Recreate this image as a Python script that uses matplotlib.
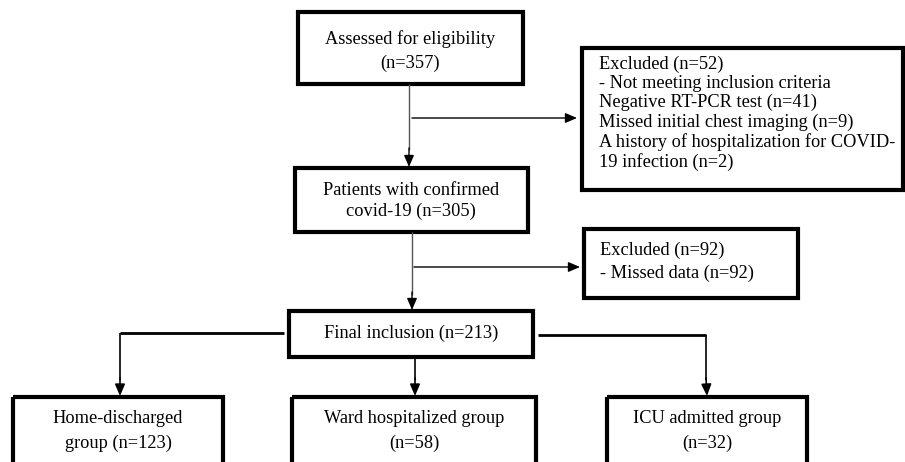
import matplotlib
matplotlib.use("Agg")
import matplotlib.pyplot as plt
from matplotlib.patches import Rectangle

# flow counts
assessed = 357
confirmed = 305
excluded_first = 52
negative_pcr = 41
missed_imaging = 9
prior_hosp = 2
excluded_second = 92
missed_data = 92
final_n = 213
group_names = ["Home-discharged\ngroup", "Ward hospitalized group\n", "ICU admitted group\n"]
group_counts = [123, 58, 32]

plt.rcParams['font.family'] = ['Liberation Serif', 'DejaVu Serif']

fig = plt.figure(figsize=(9.05, 4.62), dpi=100)
ax = fig.add_axes([0, 0, 1, 1])
ax.set_xlim(0, 905)
ax.set_ylim(462, 0)
ax.axis('off')

FS = 13.2


def box(x0, y0, x1, y1, lw=3):
    ax.add_patch(Rectangle((x0, y0), x1 - x0, y1 - y0, fill=False,
                           edgecolor='black', linewidth=lw, joinstyle='miter'))


def arrow(x0, y0, x1, y1, color='black', lw=1.0):
    ax.annotate('', xy=(x1, y1), xytext=(x0, y0),
                arrowprops=dict(arrowstyle='-|>,head_length=0.7,head_width=0.3',
                                color='black', lw=lw, shrinkA=0, shrinkB=0))


def line(xs, ys, lw=1.0, color='black'):
    ax.plot(xs, ys, color=color, lw=lw, solid_capstyle='butt')


# top box
box(298, 12, 523, 84)
ax.text(410, 51, "Assessed for eligibility\n(n=%d)" % assessed,
        ha='center', va='center', fontsize=FS, linespacing=1.45)

# arrow down to confirmed
line([409, 409], [84, 150], color='#555555')
arrow(409, 148, 409, 167)
arrow(412, 118, 577, 118)

# first exclusion box
box(582, 48, 903, 190)
ax.text(599, 113,
        "Excluded (n=%d)\n- Not meeting inclusion criteria\n"
        "Negative RT-PCR test (n=%d)\nMissed initial chest imaging (n=%d)\n"
        "A history of hospitalization for COVID-\n19 infection (n=%d)"
        % (excluded_first, negative_pcr, missed_imaging, prior_hosp),
        ha='left', va='center', fontsize=FS, linespacing=1.16)

# confirmed box
box(295, 168, 528, 232)
ax.text(411, 201, "Patients with confirmed\ncovid-19 (n=%d)" % confirmed,
        ha='center', va='center', fontsize=FS, linespacing=1.32)

line([412, 412], [232, 295], color='#555555')
arrow(412, 292, 412, 310)
arrow(414, 267, 580, 267)

# second exclusion box
box(584, 229, 798, 298)
ax.text(600, 262, "Excluded (n=%d)\n- Missed data (n=%d)" % (excluded_second, missed_data),
        ha='left', va='center', fontsize=FS, linespacing=1.4)

# final inclusion box
box(289, 311, 533, 357)
ax.text(411, 333, "Final inclusion (n=%d)" % final_n,
        ha='center', va='center', fontsize=FS)

# branches
line([284, 120], [333, 333], lw=2)
line([120, 120], [333, 380], lw=1.2)
arrow(120, 378, 120, 396, lw=1.2)

line([415, 415], [359, 380], lw=1.2)
arrow(415, 378, 415, 396, lw=1.2)

line([538, 706], [335, 335], lw=2)
line([706, 706], [335, 380], lw=1.2)
arrow(706, 378, 707, 396, lw=1.2)

# bottom boxes
bottom = [(13, 223), (292, 536), (607, 807)]
for (x0, x1), name, n in zip(bottom, group_names, group_counts):
    box(x0, 397, x1, 475)
    if name.endswith("\n"):
        label = name + "(n=%d)" % n
    else:
        label = name + " (n=%d)" % n
    ax.text((x0 + x1) / 2, 431, label, ha='center', va='center', fontsize=FS,
            linespacing=1.55)

fig.savefig("out.png", dpi=100)
